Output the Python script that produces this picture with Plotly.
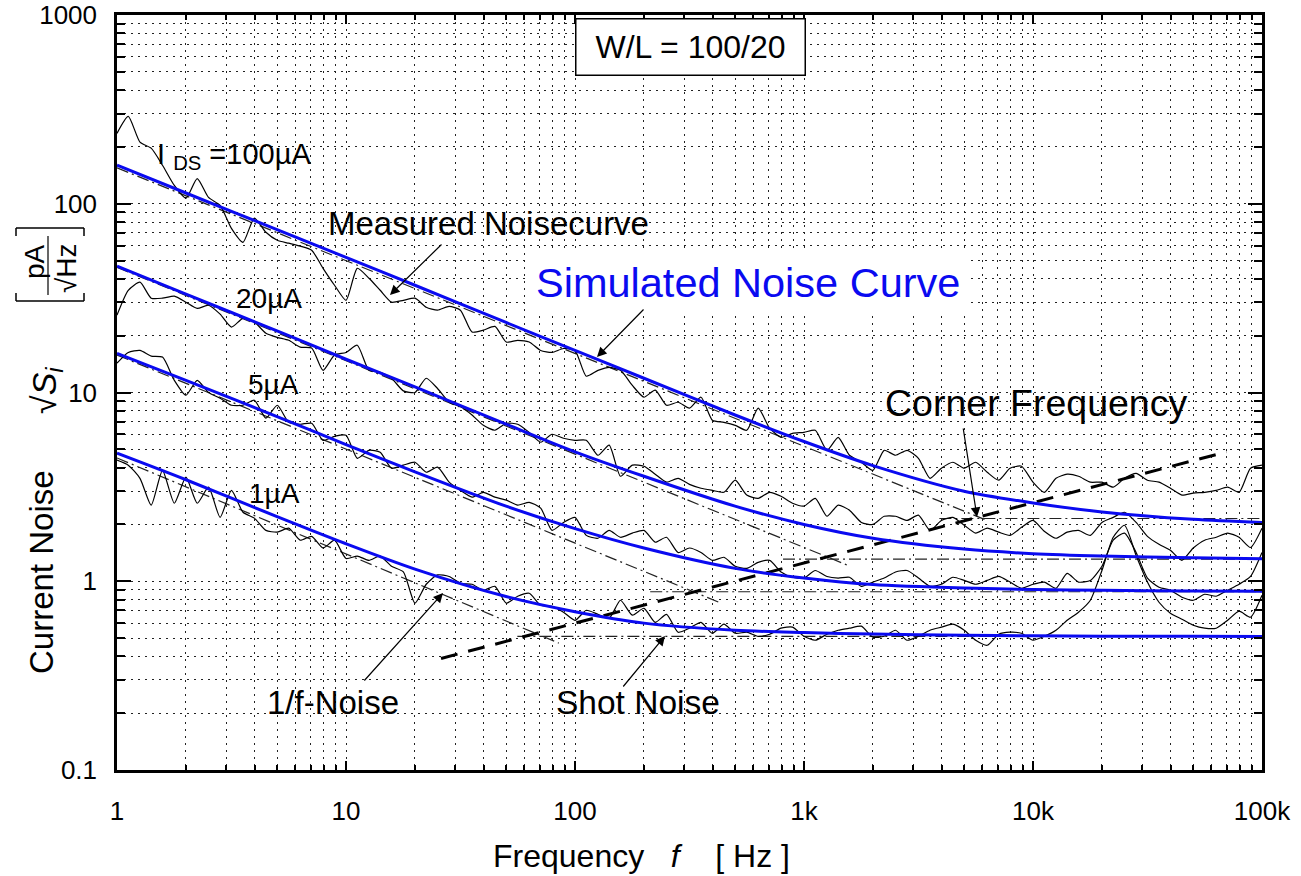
import plotly.graph_objects as go

# ---------------- data ----------------
FREQ = [1, 1.12, 1.26, 1.41, 1.58, 1.78, 2.0, 2.24, 2.51, 2.82,
        3.16, 3.55, 3.98, 4.47, 5.01, 5.62, 6.31, 7.08, 7.94, 8.91,
        10, 11.2, 12.6, 14.1, 15.8, 17.8, 20, 22.4, 25.1, 28.2,
        31.6, 35.5, 39.8, 44.7, 50.1, 56.2, 63.1, 70.8, 79.4, 89.1,
        100, 112, 126, 141, 158, 178, 200, 224, 251, 282,
        316, 355, 398, 447, 501, 562, 631, 708, 794, 891,
        1000, 1120, 1260, 1410, 1580, 1780, 2000, 2240, 2510, 2820,
        3160, 3550, 3980, 4470, 5010, 5620, 6310, 7080, 7940, 8910,
        10000, 11200, 12600, 14100, 15800, 17800, 20000, 22400, 25100, 28200,
        31600, 35500, 39800, 44700, 50100, 56200, 63100, 70800, 79400, 89100,
        100000]

MEAS_100UA = [236, 290, 212, 197, 160, 125, 107, 136, 108, 98,
              74, 62.5, 84, 70.6, 64, 61.8, 59.6, 56.7, 45.5, 37,
              30.8, 45.5, 40.3, 34.8, 30.1, 30.8, 31.6, 28.3, 27.3, 28.6,
              27.3, 20.9, 21.4, 22.4, 18.5, 18.9, 18.5, 16.7, 16.3, 17.1,
              16.7, 12.2, 13.1, 13.6, 13.1, 10.9, 9.44, 10.3, 8.56, 8.88,
              8.26, 9.44, 7.13, 6.95, 6.7, 6.31, 8.26, 6.47, 5.79, 6.08,
              6.15, 6.31, 4.94, 5.79, 4.65, 4.27, 3.87, 4.94, 4.65, 4.94,
              4.48, 3.51, 3.97, 4.27, 3.97, 4.27, 3.78, 3.43, 3.97, 4.07,
              3.35, 2.96, 3.51, 3.69, 3.6, 3.35, 3.35, 3.15, 3.51, 3.73,
              3.43, 3.35, 3.11, 2.86, 2.93, 2.96, 3.03, 3.15, 2.96, 3.97,
              4.12]

MEAS_20UA = [25.7, 34.8, 38.4, 31.6, 31.6, 32.4, 30.1, 27.9, 29, 26,
             22.2, 24.7, 23.6, 20.6, 19.6, 18.9, 17.4, 17.2, 13.1, 15.8,
             16.3, 17.8, 13.1, 12.8, 11.9, 10.2, 10.0, 11.9, 10.5, 8.88,
             8.4, 7.6, 6.7, 6.31, 6.87, 6.79, 6.15, 5.45, 6.01, 5.72,
             5.58, 5.58, 4.65, 5.26, 3.6, 4.12, 4.07, 3.69, 3.35, 3.51,
             3.26, 3.11, 3.03, 2.96, 3.43, 2.86, 2.75, 2.96, 2.82, 2.59,
             2.5, 2.75, 2.21, 2.53, 2.38, 2.05, 2.0, 2.21, 2.21, 2.1,
             2.24, 1.86, 2.1, 2.18, 1.98, 1.8, 1.91, 1.82, 1.75, 1.93,
             2.1, 1.84, 1.69, 1.82, 1.86, 1.75, 2.05, 2.18, 2.32, 2.05,
             1.73, 1.57, 1.46, 1.29, 1.5, 1.65, 1.71, 1.8, 1.71, 1.51,
             1.91]

MEAS_5UA = [14.3, 16.3, 16.7, 15.6, 15.4, 11.6, 9.67, 11.6, 10.0, 9.33,
            8.56, 8.56, 9.1, 7.31, 8.56, 6.95, 6.79, 6.87, 5.58, 5.86,
            5.94, 4.48, 4.94, 4.82, 3.97, 4.12, 4.27, 3.78, 4.02, 3.35,
            3.03, 2.79, 2.96, 2.79, 2.69, 2.53, 2.62, 2.44, 1.86, 2.05,
            2.18, 1.75, 1.69, 1.86, 1.71, 1.8, 1.86, 1.61, 1.71, 1.42,
            1.5, 1.42, 1.29, 1.34, 1.2, 1.17, 1.26, 1.29, 1.12, 1.05,
            1.04, 1.14, 1.06, 1.04, 1.05, 0.94, 0.99, 1.04, 1.12, 1.14,
            1.04, 0.94, 0.964, 1.05, 1.01, 0.964, 1.01, 1.06, 0.99, 0.918,
            0.964, 0.99, 0.918, 1.1, 0.99, 1.01, 1.2, 1.65, 1.8, 1.42,
            1.04, 0.929, 0.896, 0.823, 0.793, 0.853, 0.833, 0.896, 0.964, 1.06,
            1.42]

MEAS_1UA = [4.38, 4.12, 3.51, 2.53, 3.87, 2.59, 3.56, 2.59, 3.15, 2.18,
            3.03, 2.32, 2.16, 1.86, 1.82, 1.91, 1.65, 1.73, 1.5, 1.65,
            1.32, 1.36, 1.29, 1.36, 1.2, 1.12, 0.765, 0.964, 1.08, 1.06,
            0.976, 0.964, 0.896, 0.94, 0.765, 0.833, 0.864, 0.746, 0.737, 0.685,
            0.621, 0.702, 0.668, 0.637, 0.793, 0.661, 0.719, 0.606, 0.668, 0.537,
            0.564, 0.606, 0.53, 0.592, 0.53, 0.537, 0.511, 0.524, 0.564, 0.571,
            0.511, 0.487, 0.524, 0.55, 0.564, 0.578, 0.505, 0.511, 0.55, 0.487,
            0.511, 0.55, 0.571, 0.592, 0.55, 0.487, 0.458, 0.524, 0.537, 0.53,
            0.487, 0.511, 0.55, 0.621, 0.685, 0.793, 1.14, 1.71, 1.98, 1.37,
            0.99, 0.774, 0.677, 0.629, 0.585, 0.564, 0.564, 0.621, 0.694, 0.645,
            0.843]

SIM_FREQ = [1, 2, 5, 10, 20, 50, 100, 200, 500, 1000, 2000, 5000, 10000, 20000, 50000, 100000]
SIM_100UA = [160, 114, 73, 52, 37, 23.5, 16.7, 11.9, 7.6, 5.5, 4.1, 3.0, 2.6, 2.33, 2.13, 2.05]
SIM_20UA = [46.7, 33.2, 21.2, 15.0, 10.7, 6.8, 4.85, 3.6, 2.5, 2.0, 1.69, 1.48, 1.40, 1.36, 1.33, 1.315]
SIM_5UA = [16.1, 11.6, 7.45, 5.3, 3.8, 2.5, 1.9, 1.5, 1.17, 1.04, 0.96, 0.92, 0.905, 0.895, 0.888, 0.885]
SIM_1UA = [4.77, 3.45, 2.2, 1.58, 1.16, 0.83, 0.69, 0.6, 0.55, 0.535, 0.525, 0.517, 0.514, 0.512, 0.511, 0.51]

# 1/f asymptotes (start at 1 Hz, end frequency / value)
FLICKER_START = [155, 46, 15.8, 4.5]
FLICKER_END_F = [6300, 1540, 430, 85]
FLICKER_END_V = [2.1, 1.22, 0.77, 0.47]
# shot-noise floors
SHOT_LEVEL = [2.15, 1.31, 0.88, 0.51]
SHOT_START_F = [3900, 810, 213, 56]
# corner-frequency locus
CORNER_F = [26, 70000]
CORNER_V = [0.39, 4.85]

X_TICKS = [1, 10, 100, 1000, 10000, 100000]
X_TICKTEXT = ["1", "10", "100", "1k", "10k", "100k"]
Y_TICKS = [0.1, 1, 10, 100, 1000]
Y_TICKTEXT = ["0.1", "1", "10", "100", "1000"]

# ---------------- figure ----------------
FONT = "Liberation Sans, Arial, Helvetica, sans-serif"
W, H = 1301, 876
L, R, T, B = 117, 1262, 15, 770

def paper(px, py):
    return (px - L) / (R - L), (B - py) / (B - T)

fig = go.Figure()

DASHDOT = "12px,4px,2px,4px"
for s, fe, ve in zip(FLICKER_START, FLICKER_END_F, FLICKER_END_V):
    fig.add_trace(go.Scatter(x=[1, fe], y=[s, ve], mode="lines",
                             line=dict(color="#222", width=1.2, dash=DASHDOT),
                             hoverinfo="skip", showlegend=False))
for lvl, fs in zip(SHOT_LEVEL, SHOT_START_F):
    fig.add_trace(go.Scatter(x=[fs, 100000], y=[lvl, lvl], mode="lines",
                             line=dict(color="#222", width=1.2, dash=DASHDOT),
                             hoverinfo="skip", showlegend=False))

for meas in (MEAS_100UA, MEAS_20UA, MEAS_5UA, MEAS_1UA):
    fig.add_trace(go.Scatter(x=FREQ, y=meas, mode="lines",
                             line=dict(color="black", width=1.2, shape="spline", smoothing=0.6),
                             showlegend=False))

fig.add_trace(go.Scatter(x=CORNER_F, y=CORNER_V, mode="lines",
                         line=dict(color="black", width=3, dash="17px,11px"),
                         showlegend=False))

for sim in (SIM_100UA, SIM_20UA, SIM_5UA, SIM_1UA):
    fig.add_trace(go.Scatter(x=SIM_FREQ, y=sim, mode="lines",
                             line=dict(color="#0a0af0", width=3, shape="spline", smoothing=0.8),
                             showlegend=False))

GRID = dict(showgrid=True, gridcolor="#222", gridwidth=1, griddash="2px,5px")
MINOR = dict(dtick="D1", ticks="inside", tickcolor="black",
             showgrid=True, gridcolor="#222", gridwidth=1, griddash="2px,5px")
axis_common = dict(type="log", showline=True, linecolor="black", linewidth=2.5,
                   mirror="ticks", ticks="inside", tickcolor="black", tickwidth=1.5,
                   tickfont=dict(family=FONT, size=26, color="black"),
                   zeroline=False, automargin=False, **GRID)

fig.update_xaxes(range=[0, 5], tickvals=X_TICKS, ticktext=X_TICKTEXT, ticklen=9,
                 ticklabelstandoff=16, minor=dict(ticklen=5, **MINOR), **axis_common)
fig.update_yaxes(range=[-1, 3], tickvals=Y_TICKS, ticktext=Y_TICKTEXT, ticklen=14,
                 ticklabelstandoff=12, minor=dict(ticklen=8, **MINOR), **axis_common)

ann = []

def text(px, py, s, size, color="black", angle=0, **kw):
    x, y = paper(px, py)
    d = dict(x=x, y=y, xref="paper", yref="paper", text=s, showarrow=False,
             font=dict(family=FONT, size=size, color=color), textangle=angle,
             xanchor="center", yanchor="middle")
    d.update(kw)
    ann.append(d)

def arrow(tail, tip):
    x, y = paper(*tip)
    ann.append(dict(x=x, y=y, xref="paper", yref="paper", text="", showarrow=True,
                    ax=tail[0] - tip[0], ay=tail[1] - tip[1], arrowhead=2,
                    arrowsize=1.6, arrowwidth=1.2, arrowcolor="black", standoff=0))

text(690, 47, "W/L = 100/20", 32, bordercolor="black", borderwidth=1.5,
     bgcolor="white", width=226, height=53)
text(155, 156, "I <sub>DS</sub> =100µA", 29, xanchor="left")
text(488, 223, "Measured Noisecurve", 33)
text(269, 298, "20µA", 28)
text(273, 385, "5µA", 28)
text(274, 493, "1µA", 28)
text(748, 282, "Simulated Noise Curve", 41.5, color="#0a0af0", bgcolor="white", borderpad=6)
text(1036, 403, "Corner Frequency", 37.5)
text(333, 702, "1/f-Noise", 33)
text(638, 702, "Shot Noise", 33.5)
text(641, 856, "Frequency\u00a0\u00a0 <i>f</i> \u00a0\u00a0\u00a0[ Hz ]", 32)

text(41, 572, "Current Noise", 33, angle=-90)
text(46, 391, "√<i>S</i><sub><i>i</i></sub>", 34, angle=-90)
text(34, 262, "pA", 28, angle=-90)
text(66, 268, "√Hz", 28, angle=-90)

arrow((443, 243), (390, 295))
arrow((645, 308), (597, 357))
arrow((963, 427), (977, 517))
arrow((363, 682), (443, 593))
arrow((622, 688), (665, 636))

shapes = []
def seg(p0, p1, w=1.5):
    x0, y0 = paper(*p0)
    x1, y1 = paper(*p1)
    shapes.append(dict(type="line", xref="paper", yref="paper", x0=x0, y0=y0, x1=x1, y1=y1,
                       line=dict(color="black", width=w)))

# bracket around the unit fraction
seg((16, 228), (84, 228)); seg((16, 228), (16, 236)); seg((84, 228), (84, 236))
seg((16, 301), (84, 301)); seg((16, 301), (16, 293)); seg((84, 301), (84, 293))
seg((48, 236), (48, 295), 1.2)

fig.update_layout(width=W, height=H, margin=dict(l=L, r=W - R, t=T, b=H - B, autoexpand=False),
                  paper_bgcolor="white", plot_bgcolor="white",
                  annotations=ann, shapes=shapes, showlegend=False,
                  font=dict(family=FONT, color="black"))

fig.write_html("out.html")
